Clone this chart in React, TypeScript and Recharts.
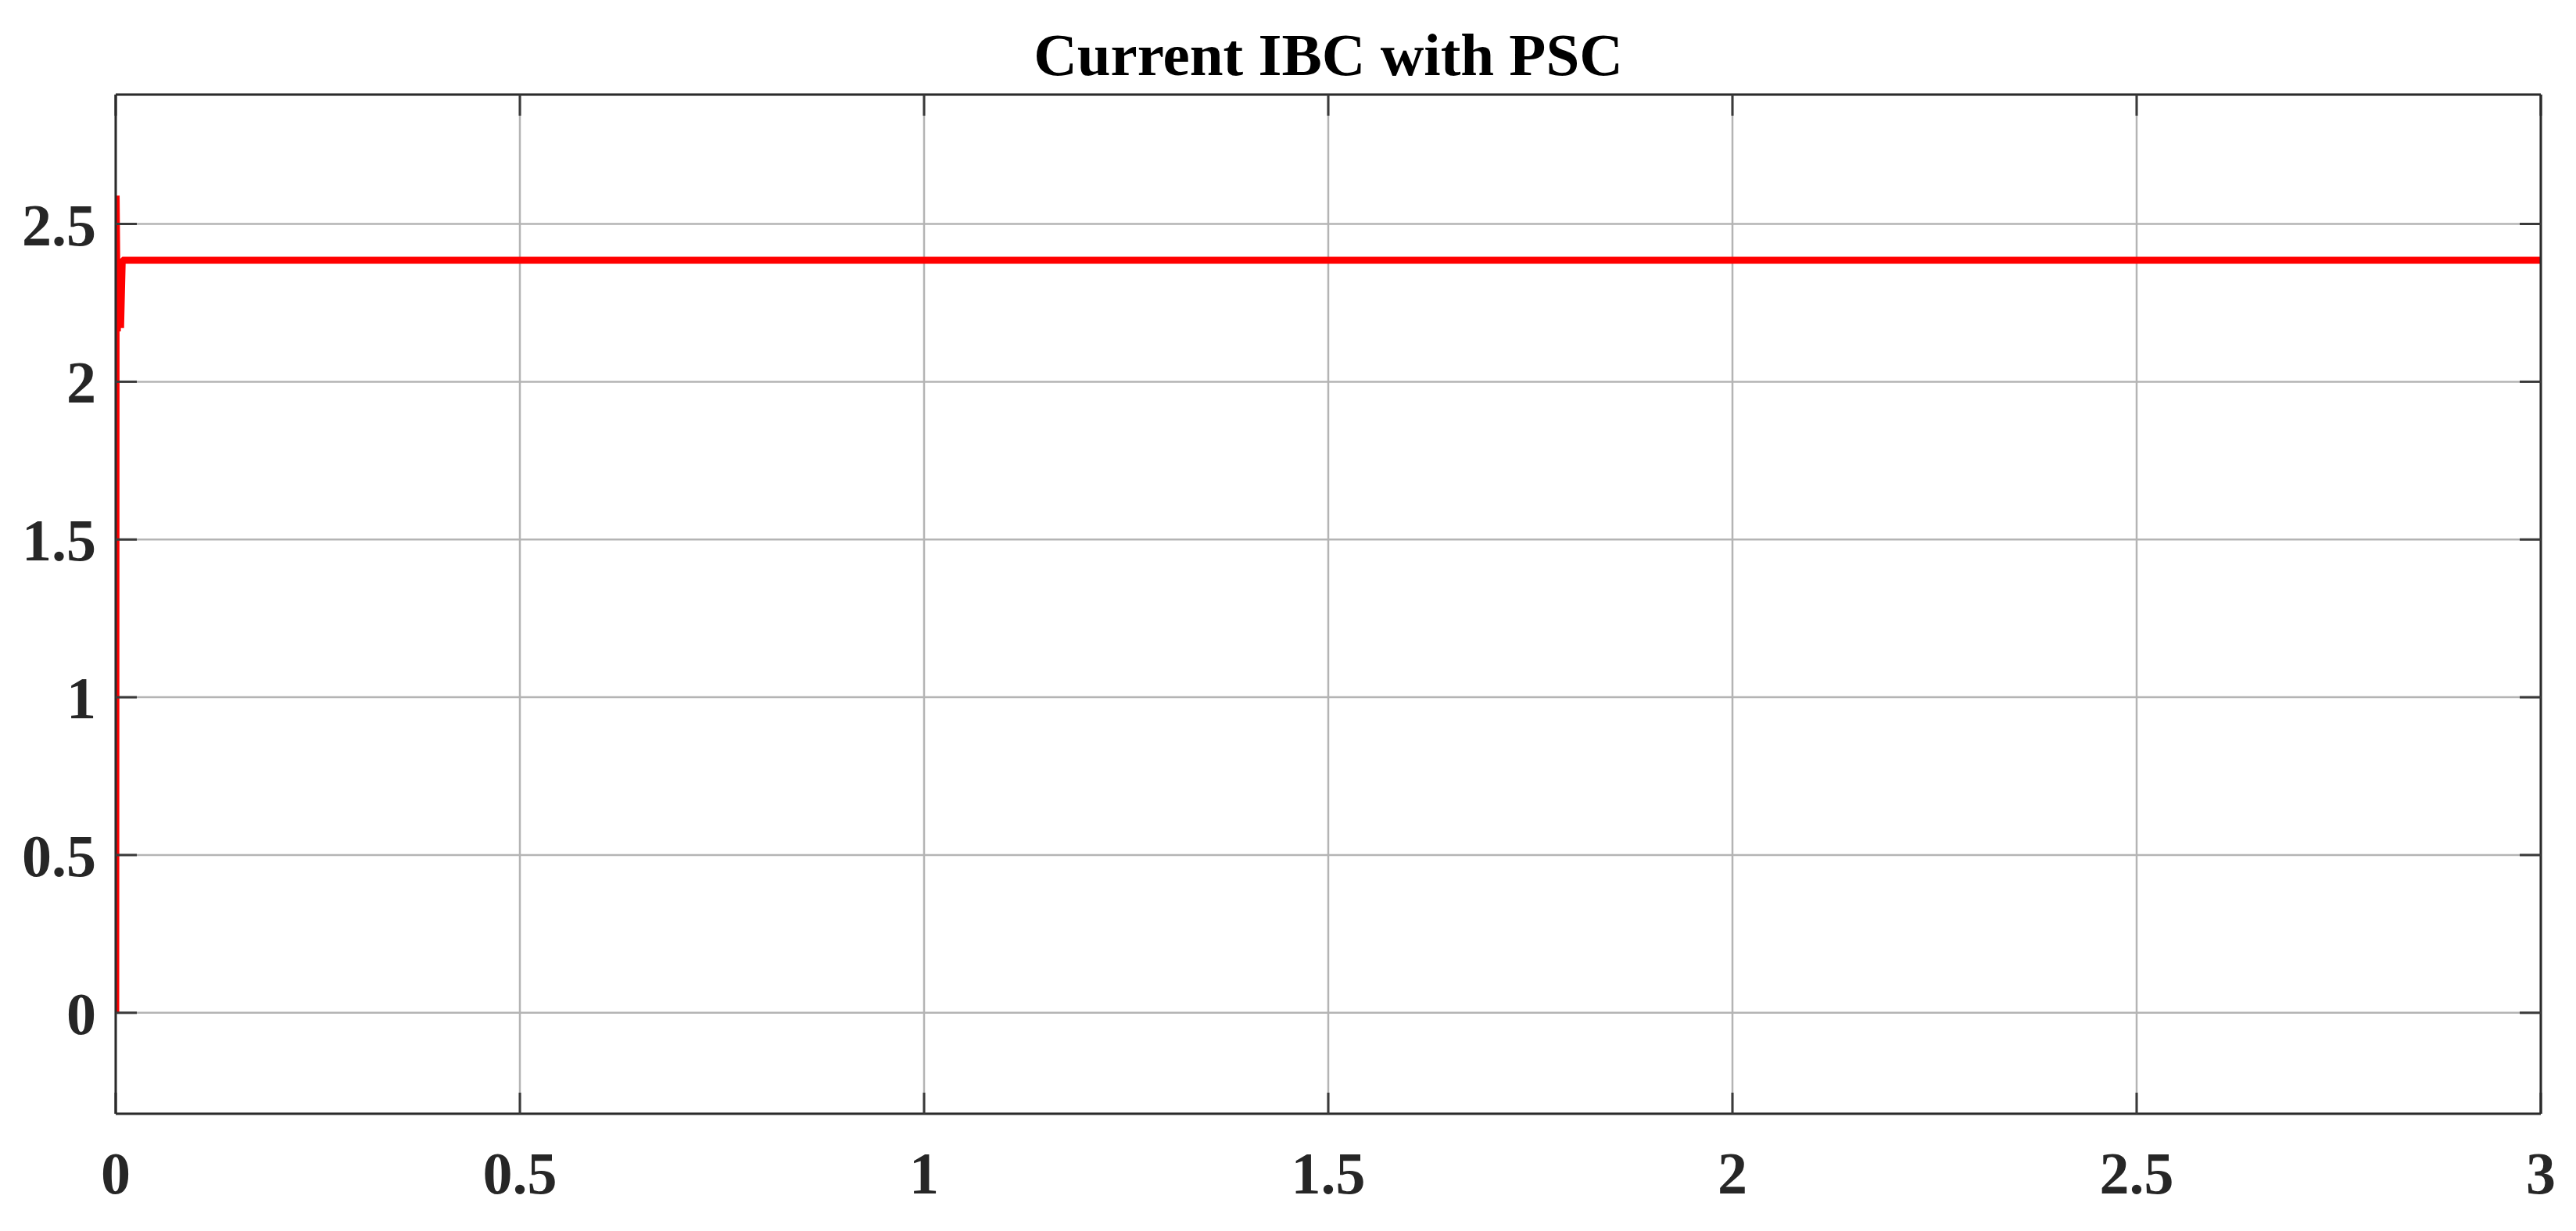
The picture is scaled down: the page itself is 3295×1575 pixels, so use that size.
import React from "react";
import {
  LineChart,
  Line,
  XAxis,
  YAxis,
  CartesianGrid,
} from "recharts";

// time (s) and current (A)
const timeValues = [0, 0.0005, 0.002, 0.004, 0.006, 0.008, 0.01, 3];
const currentValues = [0, 2.59, 2.16, 2.38, 2.17, 2.38, 2.385, 2.385];
const xTicks = [0, 0.5, 1, 1.5, 2, 2.5, 3];
const yTicks = [0, 0.5, 1, 1.5, 2, 2.5];

const chartData = timeValues.map((t, i) => ({ t, current: currentValues[i] }));

const FONT = '"Liberation Serif", "Times New Roman", serif';
const tickStyle = { fontFamily: FONT, fontSize: 76, fontWeight: 700, fill: "#262626" };
const axisLine = { stroke: "#2b2b2b", strokeWidth: 3 };
const tickLine = { stroke: "#3a3a3a", strokeWidth: 3 };

export default function App() {
  return (
    <div style={{ position: "absolute", left: 0, top: 0, width: 3295, height: 1575, background: "#fff" }}>
      <div
        style={{
          position: "absolute",
          left: 148,
          width: 3102,
          top: 32,
          textAlign: "center",
          fontFamily: FONT,
          fontWeight: 700,
          fontSize: 77,
          lineHeight: "77px",
          color: "#000",
        }}
      >
        Current IBC with PSC
      </div>
      <LineChart
        width={3295}
        height={1575}
        data={chartData}
        margin={{ top: 0, right: 0, bottom: 0, left: 0 }}
      >
        <CartesianGrid stroke="#b4b4b4" strokeWidth={2.5} />
        <XAxis
          dataKey="t"
          type="number"
          domain={[0, 3]}
          ticks={xTicks}
          height={150}
          axisLine={axisLine}
          tickLine={tickLine}
          tickSize={-27}
          tickMargin={75}
          tick={tickStyle}
          interval={0}
          allowDataOverflow
        />
        <XAxis
          xAxisId="top"
          dataKey="t"
          orientation="top"
          type="number"
          domain={[0, 3]}
          ticks={xTicks}
          height={121}
          axisLine={axisLine}
          tickLine={tickLine}
          tickSize={-27}
          tickFormatter={() => ""}
          interval={0}
          allowDataOverflow
        />
        <YAxis
          type="number"
          domain={[-0.32, 2.91]}
          ticks={yTicks}
          width={148}
          axisLine={axisLine}
          tickLine={tickLine}
          tickSize={-27}
          tickMargin={52}
          tick={tickStyle}
          interval={0}
          allowDataOverflow
        />
        <YAxis
          yAxisId="right"
          dataKey="current"
          orientation="right"
          type="number"
          domain={[-0.32, 2.91]}
          ticks={yTicks}
          width={45}
          axisLine={axisLine}
          tickLine={tickLine}
          tickSize={-27}
          tickFormatter={() => ""}
          interval={0}
          allowDataOverflow
        />
        <Line
          type="linear"
          dataKey="current"
          stroke="#ff0000"
          strokeWidth={9}
          dot={false}
          isAnimationActive={false}
        />
      </LineChart>
    </div>
  );
}
